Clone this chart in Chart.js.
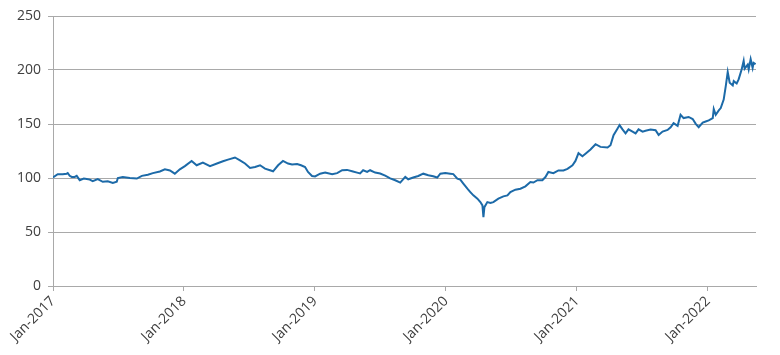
<!DOCTYPE html>
<html>
<head>
<meta charset="utf-8">
<script src="https://cdn.jsdelivr.net/npm/chart.js@4"></script>
<style>
  html, body { margin: 0; padding: 0; background: #fff; }
  #wrap { width: 780px; height: 355px; }
</style>
</head>
<body>
<div id="wrap"><canvas id="chart" width="780" height="355"></canvas></div>
<script>
// months since Jan-2017 and index level
let months = [0, 0.43, 0.89, 1.26, 1.35, 1.53, 1.72, 1.99, 2.17, 2.45, 2.82, 3.09, 3.37, 3.64, 4.10, 4.56, 5.02, 5.48, 5.84, 5.94,
    6.39, 7.04, 7.68, 8.14, 8.69, 9.15, 9.79, 10.25, 10.71, 11.16, 11.62, 12.08, 12.70, 13.16, 13.73, 14.38, 15.02, 15.57, 16.03, 16.67,
    17.13, 17.59, 18.05, 18.51, 18.97, 19.42, 19.88, 20.16, 20.62, 21.07, 21.53, 21.90, 22.36, 22.72, 23.09, 23.36, 23.73, 24.01, 24.47, 24.93,
    25.57, 26.03, 26.49, 26.94, 27.40, 27.86, 28.13, 28.41, 28.78, 29.05, 29.51, 29.97, 30.43, 30.89, 31.35, 31.81, 32.27, 32.54, 33.00, 33.46,
    33.92, 34.38, 34.83, 35.20, 35.48, 35.94, 36.39, 36.67, 37.04, 37.31, 37.59, 37.96, 38.23, 38.51, 38.88, 39.15, 39.34, 39.43, 39.52, 39.79,
    40.07, 40.34, 40.80, 41.26, 41.63, 41.90, 42.36, 42.82, 43.28, 43.73, 44.01, 44.38, 44.83, 45.11, 45.38, 45.84, 46.30, 46.76, 47.13, 47.59,
    47.86, 48.14, 48.50, 48.78, 49.24, 49.70, 50.15, 50.80, 51.07, 51.35, 51.72, 51.90, 52.17, 52.45, 52.72, 53.09, 53.37, 53.64, 54.01, 54.28,
    54.74, 55.20, 55.48, 55.84, 56.30, 56.58, 56.85, 57.22, 57.49, 57.77, 58.23, 58.60, 58.88, 59.15, 59.52, 59.79, 60.07, 60.44, 60.53, 60.71,
    60.99, 61.17, 61.44, 61.63, 61.81, 61.99, 62.27, 62.36, 62.63, 62.81, 63.09, 63.27, 63.36, 63.64, 63.73, 63.91, 64.09, 64.18, 64.36];
let values = [100.6, 103.5, 103.4, 104, 104.6, 102, 101, 101, 102, 98, 99.5, 99, 98.5, 97, 99, 96.5, 97, 95.5, 96.5, 100,
    101, 100, 99.5, 102, 103, 104.5, 106, 108, 107, 104, 108, 111, 115.8, 111.8, 114.3, 111, 113.4, 115.5, 117, 119,
    116.4, 113.4, 109.3, 110.2, 111.8, 108.7, 107.2, 106.2, 111.8, 115.8, 113.4, 112.5, 113, 111.8, 110.2, 105.6, 101.9, 101.5, 104, 105,
    103.4, 104.5, 107.2, 107.5, 106.3, 105, 104.2, 107.2, 105.6, 107.2, 105, 104.2, 102.2, 99.7, 97.9, 95.7, 101, 98.8, 100.5, 101.9,
    104, 102.5, 101.6, 100.4, 104, 104.6, 104, 103.6, 99.4, 98.5, 94.8, 90.1, 87, 83.9, 80.9, 77.7, 74.6, 63.8, 73, 77.7,
    76.8, 77.7, 80.9, 83, 83.9, 87, 89.2, 90.1, 92.3, 96.3, 95.8, 98, 98, 100.9, 105.6, 104.5, 107, 107, 108.5, 111.8,
    115.8, 123, 120.2, 122.5, 126.4, 131.3, 128.8, 128.2, 130.4, 139.7, 145.9, 149, 145, 141.3, 145, 142.9, 141.3, 145, 142.9, 143.8,
    144.8, 144.2, 139.9, 143, 144.5, 147, 150.8, 148.3, 158.6, 155.5, 156.5, 154.6, 150.2, 147, 151.4, 152.3, 153.3, 155.5, 163.9, 158.6,
    162.6, 164.8, 172.6, 185, 198.1, 188.2, 185.7, 189.7, 187.5, 191.3, 200.6, 208.4, 201.3, 205, 200.6, 210, 202, 206.6, 205.3];

let tickMonths = [0, 12, 24, 36, 48, 60];
let tickLabels = ['Jan-2017', 'Jan-2018', 'Jan-2019', 'Jan-2020', 'Jan-2021', 'Jan-2022'];

let gridColor = '#a9a9a9';
let textColor = '#404040';

let points = months.map((m, i) => ({x: m, y: values[i]}));

let ctx = document.getElementById('chart').getContext('2d');
let chart = new Chart(ctx, {
    type: 'line',
    data: {
        datasets: [{
            data: points,
            borderColor: '#1c6aa8',
            borderWidth: 2,
            pointRadius: 0,
            tension: 0,
            fill: false
        }]
    },
    options: {
        responsive: false,
        animation: false,
        layout: {padding: {top: 16, right: 24, left: 0, bottom: 0}},
        plugins: {legend: {display: false}, tooltip: {enabled: false}},
        scales: {
            x: {
                type: 'linear',
                min: 0,
                max: 64.4,
                afterBuildTicks: scale => {
                    scale.ticks = tickMonths.map(v => ({value: v}));
                },
                afterFit: scale => { scale.height = 69; },
                grid: {drawOnChartArea: false, drawTicks: true, tickLength: 5, color: gridColor},
                border: {display: true, color: gridColor},
                ticks: {
                    autoSkip: false,
                    minRotation: 45,
                    maxRotation: 45,
                    padding: 2,
                    color: textColor,
                    font: {family: '"Open Sans"', size: 14},
                    callback: value => tickLabels[tickMonths.indexOf(value)]
                }
            },
            y: {
                min: 0,
                max: 250,
                afterFit: scale => { scale.width = 53; },
                grid: {color: gridColor, tickLength: 5},
                border: {display: true, color: gridColor},
                ticks: {
                    stepSize: 50,
                    padding: 7,
                    color: textColor,
                    font: {family: '"Open Sans"', size: 14}
                }
            }
        }
    }
});
</script>
</body>
</html>
